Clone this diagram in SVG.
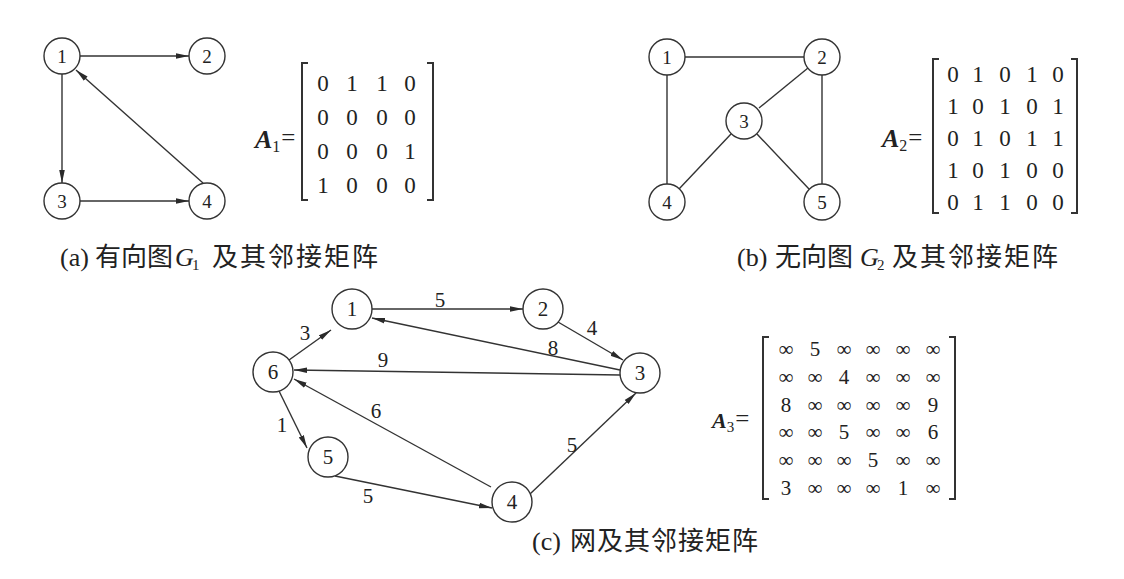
<svg xmlns="http://www.w3.org/2000/svg" width="1124" height="579" viewBox="0 0 1124 579">
<style>
  text { font-family: "Liberation Serif", "Times New Roman", serif; fill: #222; }
  .cn { font-family: "Noto Sans CJK SC", "Liberation Serif", sans-serif; font-size: 26px; letter-spacing: 0px; }
  .ls1 { letter-spacing: 1px; }
  .ls2 { letter-spacing: 2px; }
  .cap { font-size: 26px; }
  .nd circle { fill: #fff; stroke: #333; stroke-width: 1.4; }
  .nl { font-size: 19px; text-anchor: middle; }
  .nl2 { font-size: 21px; text-anchor: middle; }
  .wl { font-size: 21px; text-anchor: middle; }
  .m { font-size: 23px; text-anchor: middle; }
  .m3 { font-size: 21px; text-anchor: middle; }
  .A { font-weight: bold; font-style: italic; }
  .edges line { stroke: #333; stroke-width: 1.4; }
  .arr { marker-end: url(#ah); }
  .br { fill: none; stroke: #333; stroke-width: 2; }
</style>
<defs>
  <marker id="ah" markerWidth="14" markerHeight="8" refX="13" refY="3.5" orient="auto" markerUnits="userSpaceOnUse">
    <path d="M0,0.7 L13,3.5 L0,6.3 Z" fill="#2a2a2a"/>
  </marker>
</defs>
<rect width="1124" height="579" fill="#fff"/>

<!-- connectors -->
<g class="edges" id="connectors">
  <!-- (a) -->
  <line class="arr" x1="80" y1="56" x2="189" y2="56"/>
  <line class="arr" x1="62" y1="74" x2="62" y2="183"/>
  <line class="arr" x1="80" y1="201" x2="189" y2="201"/>
  <line class="arr" x1="203" y1="183" x2="76" y2="70"/>
  <!-- (b) -->
  <line x1="685" y1="57" x2="804" y2="57"/>
  <line x1="667" y1="75" x2="667" y2="184"/>
  <line x1="822" y1="75" x2="822" y2="184"/>
  <line x1="808" y1="68" x2="759" y2="108"/>
  <line x1="731" y1="134" x2="679" y2="189"/>
  <line x1="757" y1="134" x2="809" y2="189"/>
  <!-- (c) -->
  <line class="arr" x1="372" y1="309" x2="523" y2="309"/>
  <line class="arr" x1="558" y1="322" x2="623" y2="360"/>
  <line class="arr" x1="620" y1="370" x2="372" y2="318"/>
  <line class="arr" x1="620" y1="375" x2="294" y2="370"/>
  <line class="arr" x1="289" y1="360" x2="331" y2="330"/>
  <line class="arr" x1="279" y1="391" x2="307" y2="448"/>
  <line class="arr" x1="491" y1="487" x2="294" y2="379"/>
  <line class="arr" x1="335" y1="476" x2="492" y2="508"/>
  <line class="arr" x1="530" y1="494" x2="636" y2="393"/>
</g>

<!-- edge weights (c) -->
<g id="weights">
  <text class="wl" x="440" y="307">5</text>
  <text class="wl" x="592" y="335">4</text>
  <text class="wl" x="553" y="355">8</text>
  <text class="wl" x="383" y="367">9</text>
  <text class="wl" x="305" y="340">3</text>
  <text class="wl" x="282" y="432">1</text>
  <text class="wl" x="376" y="418">6</text>
  <text class="wl" x="368" y="503">5</text>
  <text class="wl" x="572" y="452">5</text>
</g>

<!-- (a) nodes -->
<g class="nd" id="a1"><circle cx="62" cy="56" r="18"/><text class="nl" x="62" y="63">1</text></g>
<g class="nd" id="a2"><circle cx="207" cy="56" r="18"/><text class="nl" x="207" y="63">2</text></g>
<g class="nd" id="a3"><circle cx="62" cy="201" r="18"/><text class="nl" x="62" y="208">3</text></g>
<g class="nd" id="a4"><circle cx="207" cy="201" r="18"/><text class="nl" x="207" y="208">4</text></g>

<!-- (b) nodes -->
<g class="nd" id="b1"><circle cx="667" cy="57" r="18"/><text class="nl" x="667" y="64">1</text></g>
<g class="nd" id="b2"><circle cx="822" cy="57" r="18"/><text class="nl" x="822" y="64">2</text></g>
<g class="nd" id="b3"><circle cx="744" cy="121" r="18"/><text class="nl" x="744" y="128">3</text></g>
<g class="nd" id="b4"><circle cx="667" cy="202" r="18"/><text class="nl" x="667" y="209">4</text></g>
<g class="nd" id="b5"><circle cx="822" cy="202" r="18"/><text class="nl" x="822" y="209">5</text></g>

<!-- (c) nodes -->
<g class="nd" id="c1"><circle cx="352" cy="309" r="20"/><text class="nl2" x="352" y="316">1</text></g>
<g class="nd" id="c2"><circle cx="543" cy="309" r="20"/><text class="nl2" x="543" y="316">2</text></g>
<g class="nd" id="c3"><circle cx="640" cy="373" r="20"/><text class="nl2" x="640" y="380">3</text></g>
<g class="nd" id="c4"><circle cx="512" cy="502" r="20"/><text class="nl2" x="512" y="509">4</text></g>
<g class="nd" id="c5"><circle cx="328" cy="457" r="20"/><text class="nl2" x="328" y="464">5</text></g>
<g class="nd" id="c6"><circle cx="273" cy="372" r="20"/><text class="nl2" x="273" y="379">6</text></g>

<!-- matrix A1 -->
<g id="matA1">
  <text x="255" y="148" font-size="26"><tspan class="A">A</tspan><tspan font-size="16" dy="4">1</tspan><tspan font-size="25" dy="-6" dx="1">=</tspan></text>
  <path class="br" d="M308,63 H302 V200 H308"/>
  <path class="br" d="M427,63 H433 V200 H427"/>
  <text class="m" x="323 352 382 410" y="91">0110</text>
  <text class="m" x="323 352 382 410" y="125">0000</text>
  <text class="m" x="323 352 382 410" y="159">0001</text>
  <text class="m" x="323 352 382 410" y="193">1000</text>
</g>

<!-- matrix A2 -->
<g id="matA2">
  <text x="882" y="147" font-size="26"><tspan class="A">A</tspan><tspan font-size="16" dy="4">2</tspan><tspan font-size="25" dy="-5" dx="1">=</tspan></text>
  <path class="br" d="M939,59 H933 V213 H939"/>
  <path class="br" d="M1071,59 H1077 V213 H1071"/>
  <text class="m" x="953 978 1005 1032 1058" y="82">01010</text>
  <text class="m" x="953 978 1005 1032 1058" y="114">10101</text>
  <text class="m" x="953 978 1005 1032 1058" y="146">01011</text>
  <text class="m" x="953 978 1005 1032 1058" y="178">10100</text>
  <text class="m" x="953 978 1005 1032 1058" y="210">01100</text>
</g>

<!-- matrix A3 -->
<g id="matA3">
  <text x="712" y="428" font-size="22"><tspan class="A">A</tspan><tspan font-size="15" dy="4">3</tspan><tspan font-size="25" dy="-5" dx="1">=</tspan></text>
  <path class="br" d="M769,337 H763 V499 H769"/>
  <path class="br" d="M949,337 H955 V499 H949"/>
  <text class="m3" x="786 815 844 873 903 933" y="356">∞5∞∞∞∞</text>
  <text class="m3" x="786 815 844 873 903 933" y="384">∞∞4∞∞∞</text>
  <text class="m3" x="786 815 844 873 903 933" y="412">8∞∞∞∞9</text>
  <text class="m3" x="786 815 844 873 903 933" y="439">∞∞5∞∞6</text>
  <text class="m3" x="786 815 844 873 903 933" y="467">∞∞∞5∞∞</text>
  <text class="m3" x="786 815 844 873 903 933" y="495">3∞∞∞1∞</text>
</g>

<!-- captions -->
<g id="captions">
  <text class="cap" x="60" y="266">(a)<tspan class="cn" x="95">有向图</tspan><tspan x="175" font-style="italic">G</tspan><tspan x="192" dy="4" font-size="15">1</tspan><tspan class="cn ls2" x="212" dy="-4">及其邻接矩阵</tspan></text>
  <text class="cap" x="737" y="266">(b)<tspan class="cn" x="775">无向图</tspan><tspan x="860" font-style="italic">G</tspan><tspan x="877" dy="4" font-size="15">2</tspan><tspan class="cn ls2" x="892" dy="-4">及其邻接矩阵</tspan></text>
  <text class="cap" x="532" y="550">(c)<tspan class="cn ls1" x="570">网及其邻接矩阵</tspan></text>
</g>
</svg>
